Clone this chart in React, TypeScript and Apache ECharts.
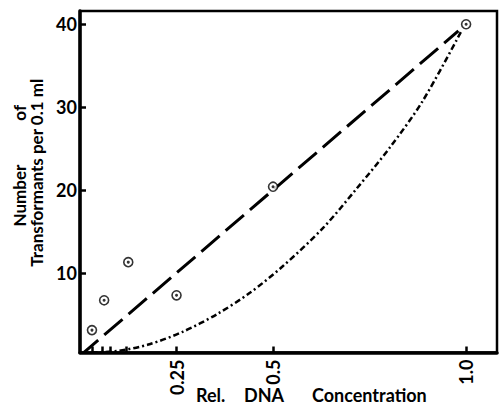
import React, { useEffect, useRef } from "react";
import * as echarts from "echarts";

// Measured points (relative DNA concentration, transformants per 0.1 ml)
const pointX = [0.031, 0.0625, 0.125, 0.25, 0.5, 1.0];
const pointY = [3.1, 6.7, 11.3, 7.3, 20.4, 40.0];

// Long-dashed straight line
const lineX = [0, 0.98];
const lineY = [0, 39.2];

// Dash-dot curve
const curveX = [0.03, 0.1, 0.18, 0.266, 0.354, 0.44, 0.525, 0.629, 0.717, 0.802, 0.887, 0.988];
const curveY = [0.4, 0.6, 1.4, 2.9, 5.0, 7.6, 10.8, 15.4, 20.2, 25.1, 30.7, 39.2];

// Axis ticks
const xTickValues = [0.031, 0.057, 0.078, 0.12, 0.25, 0.5, 1.0];
const xLabelValues = [0.25, 0.5, 1.0];
const yTickValues = [10, 20, 30, 40];

const FONT = "Lato";

export default function App() {
  const ref = useRef<HTMLDivElement>(null);

  useEffect(() => {
    if (!ref.current) return;
    const chart = echarts.init(ref.current, null, { renderer: "svg" });
    const pts = pointX.map((x, i) => [x, pointY[i]]);
    const ts = {
      fontFamily: FONT,
      fontWeight: "bold" as const,
      fontSize: 18,
      fill: "#000",
    };
    const yMin = 0.4;
    const yMax = 41.6;
    chart.setOption({
      animation: false,
      backgroundColor: "#fff",
      grid: {
        left: 80,
        right: 3,
        top: 11,
        bottom: 56.5,
        show: true,
        borderColor: "#000",
        borderWidth: 2.5,
        backgroundColor: "transparent",
      },
      xAxis: {
        type: "value",
        min: 0,
        max: 1.08,
        splitLine: { show: false },
        axisLine: { onZero: false, lineStyle: { color: "#000", width: 3.5 } },
        axisTick: {
          inside: true,
          length: 6,
          lineStyle: { color: "#000", width: 2.5 },
          customValues: xTickValues,
        },
        axisLabel: {
          customValues: xLabelValues,
          rotate: 90,
          margin: 7,
          color: "#000",
          fontFamily: FONT,
          fontWeight: "bold",
          fontSize: 18,
          formatter: (v: number) => (v === 1 ? "1.0" : String(v)),
        },
      },
      yAxis: [
        {
          type: "value",
          min: yMin,
          max: yMax,
          position: "left",
          splitLine: { show: false },
          axisLine: { onZero: false, lineStyle: { color: "#000", width: 3.5 } },
          axisTick: {
            inside: true,
            length: 6,
            lineStyle: { color: "#000", width: 2.5 },
            customValues: yTickValues,
          },
          axisLabel: {
            customValues: yTickValues,
            margin: 3,
            color: "#000",
            fontFamily: FONT,
            fontWeight: "bold",
            fontSize: 18,
          },
          name: "Transformants per 0.1 ml",
          nameLocation: "middle",
          nameRotate: 90,
          nameGap: 32,
          nameTextStyle: {
            color: "#000",
            fontFamily: FONT,
            fontWeight: "bold",
            fontSize: 17,
            padding: [0, 0, 0, 18],
          },
        },
        {
          type: "value",
          min: yMin,
          max: yMax,
          position: "left",
          splitLine: { show: false },
          axisLine: { show: false },
          axisTick: { show: false },
          axisLabel: { show: false },
          name: "{a|Number}{b|of}",
          nameLocation: "middle",
          nameRotate: 90,
          nameGap: 52,
          nameTextStyle: {
            color: "#000",
            fontFamily: FONT,
            fontWeight: "bold",
            fontSize: 17,
            padding: [0, 0, 0, 32],
            rich: {
              a: { fontFamily: FONT, fontWeight: "bold", fontSize: 17, color: "#000", padding: [0, 44, 0, 0] },
              b: { fontFamily: FONT, fontWeight: "bold", fontSize: 17, color: "#000" },
            },
          },
        },
      ],
      graphic: [
        { type: "text", left: 196, top: 386, style: { ...ts, text: "Rel." } },
        { type: "text", left: 244, top: 386, style: { ...ts, text: "DNA" } },
        { type: "text", left: 312, top: 386, style: { ...ts, text: "Concentration" } },
      ],
      series: [
        {
          type: "line",
          data: lineX.map((x, i) => [x, lineY[i]]),
          symbol: "none",
          lineStyle: { color: "#000", width: 3, type: [24, 8] },
          z: 2,
        },
        {
          type: "line",
          data: curveX.map((x, i) => [x, curveY[i]]),
          symbol: "none",
          smooth: 0.3,
          clip: false,
          lineStyle: { color: "#000", width: 2.5, type: [6, 3, 2, 3] },
          z: 2,
        },
        {
          type: "scatter",
          data: pts,
          symbol: "circle",
          symbolSize: 9,
          itemStyle: { color: "#fff", borderColor: "#000", borderWidth: 1.6 },
          z: 3,
        },
        {
          type: "scatter",
          data: pts,
          symbol: "circle",
          symbolSize: 3,
          itemStyle: { color: "#000" },
          z: 4,
        },
      ],
    });
    return () => chart.dispose();
  }, []);

  return <div ref={ref} style={{ width: 500, height: 409, position: "absolute", left: 0, top: 0 }} />;
}
